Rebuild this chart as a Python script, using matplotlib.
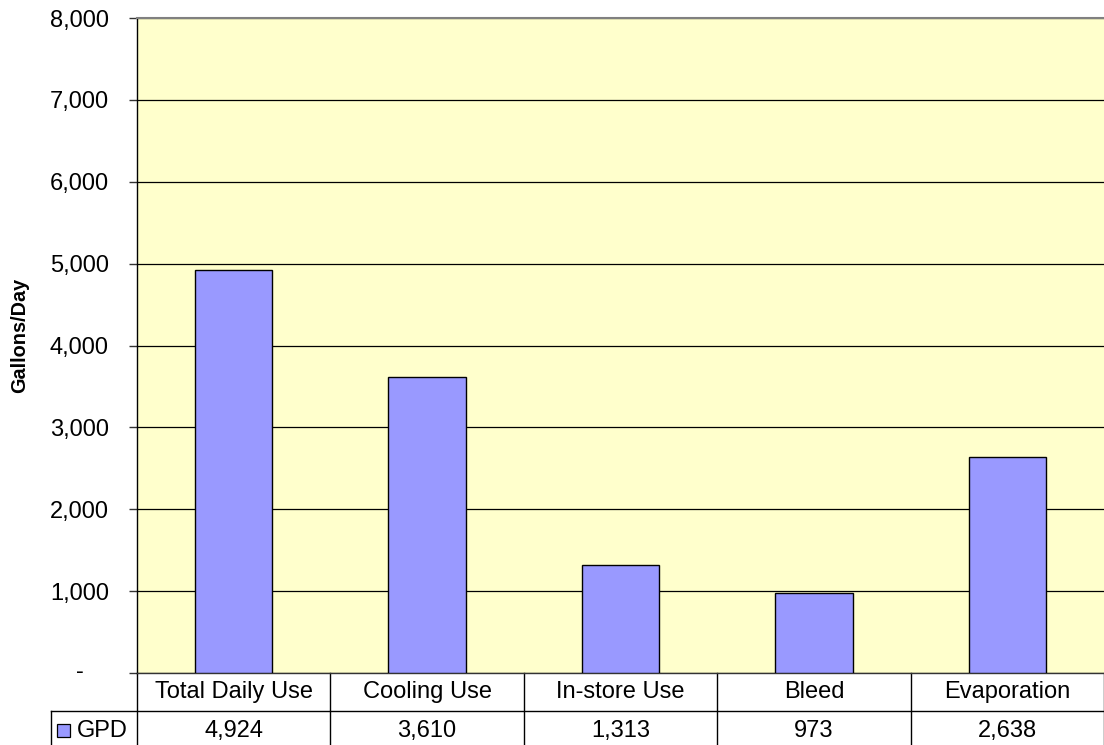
import matplotlib
matplotlib.use("Agg")
import matplotlib.pyplot as plt
from matplotlib.transforms import blended_transform_factory
from matplotlib.lines import Line2D
from matplotlib.patches import Rectangle

plt.rcParams['font.family'] = ['Liberation Sans', 'DejaVu Sans']

categories = ["Total Daily Use", "Cooling Use", "In-store Use", "Bleed", "Evaporation"]
gpd = [4924, 3610, 1313, 973, 2638]
series_name = "GPD"
yticks = [0, 1000, 2000, 3000, 4000, 5000, 6000, 7000, 8000]
ytick_labels = ["-", "1,000", "2,000", "3,000", "4,000", "5,000", "6,000", "7,000", "8,000"]

W, H = 1104, 745
fig = plt.figure(figsize=(W / 100, H / 100), dpi=100)
fig.patch.set_facecolor("white")

FS = 17

L, R, T, B = 137, 1104, 18, 673
ax = fig.add_axes([L / W, 1 - B / H, (R - L) / W, (B - T) / H])
ax.set_facecolor("#FFFFCC")

n = len(categories)
x = list(range(n))
ax.bar(x, gpd, width=0.40, color="#9999FF", edgecolor="black", linewidth=1.0, zorder=3)

ax.set_xlim(-0.5, n - 0.5)
ax.set_ylim(0, 8000)
ax.set_yticks(yticks)
# the zero label ("-") sits further left, as in accounting number format
ax.set_yticklabels([""] + ytick_labels[1:], fontsize=FS)
ax.tick_params(axis="y", direction="out", length=5.8, width=1, color="#333333", pad=14.4)
ax.set_xticks([])
ax.yaxis.grid(True, color="black", linewidth=0.9, zorder=1)
ax.set_axisbelow(True)
fig.text(84 / W, 1 - 672 / H, ytick_labels[0], ha="right", va="center", fontsize=FS)

ax.spines["right"].set_visible(False)
ax.spines["top"].set_color("#808080")
ax.spines["top"].set_linewidth(1.5)
ax.spines["left"].set_color("black")
ax.spines["left"].set_linewidth(1.0)
ax.spines["bottom"].set_color("#333333")
ax.spines["bottom"].set_linewidth(1.0)

fig.text(20 / W, 1 - 335 / H, "Gallons/Day", rotation=90, ha="center", va="center",
         fontsize=14.3, fontweight="bold")

# Data table beneath the plot
px_h = (B - T)
def yfrac(py):
    return (B - py) / px_h

trans = blended_transform_factory(ax.transData, ax.transAxes)
row1_bot = 711
row2_bot = 760
lc = "black"
lw = 1.0

for i in range(n + 1):
    xv = i - 0.5
    ax.add_line(Line2D([xv, xv], [yfrac(B), yfrac(row2_bot)], transform=trans,
                       color=lc, linewidth=lw, clip_on=False))
x_left_cell = -0.5 - (L - 51) / ((R - L) / n)
ax.add_line(Line2D([x_left_cell, n - 0.5], [yfrac(row1_bot)] * 2, transform=trans,
                   color=lc, linewidth=lw, clip_on=False))
ax.add_line(Line2D([x_left_cell, x_left_cell], [yfrac(row1_bot), yfrac(row2_bot)],
                   transform=trans, color=lc, linewidth=lw, clip_on=False))

for i, (c, v) in enumerate(zip(categories, gpd)):
    ax.text(i, yfrac(692), c, transform=trans, ha="center", va="center",
            fontsize=FS, clip_on=False)
    ax.text(i, yfrac(731), f"{v:,}", transform=trans, ha="center", va="center",
            fontsize=FS, clip_on=False)

fig.add_artist(Rectangle((56.5 / W, 1 - 736.5 / H), 13 / W, 12.5 / H,
                         facecolor="#9999FF", edgecolor="black", linewidth=0.9))
fig.text(76.5 / W, 1 - 731 / H, series_name, ha="left", va="center", fontsize=FS)

fig.savefig("out.png", dpi=100)
